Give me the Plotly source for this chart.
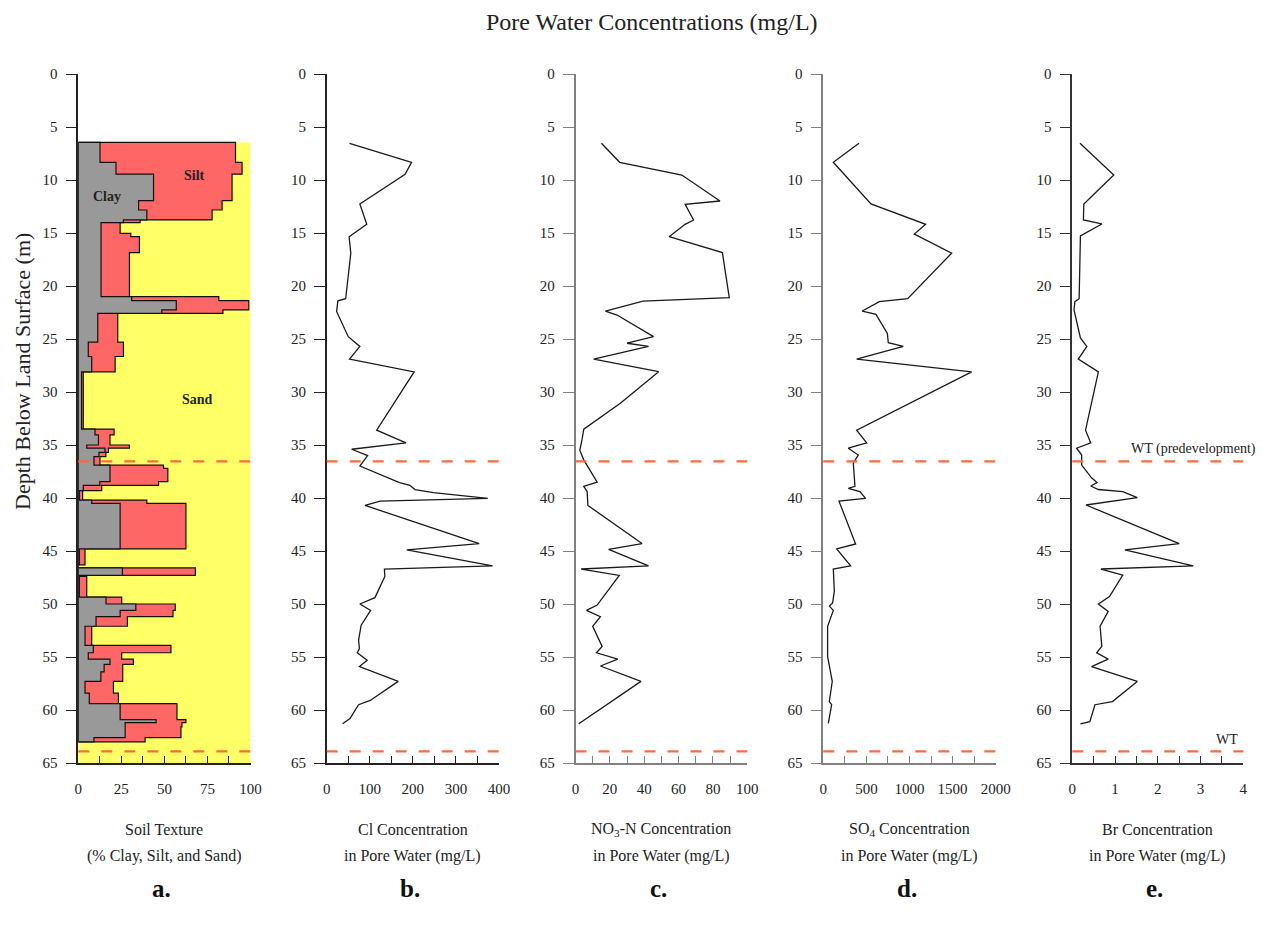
import plotly.graph_objects as go

W, H = 1265, 933
FONT = "Liberation Serif, Times New Roman, serif"

# ---------------- Soil texture (panel a) ----------------
TEXTURE_TOP = [6.45, 8.33, 9.45, 11.95, 12.83, 13.77, 14.03, 15.03, 15.35, 16.85,
               21.0, 21.38, 22.26, 22.58, 25.3, 26.65, 28.1, 33.5, 34.05, 35.0,
               35.3, 35.7, 36.1, 36.9, 37.2, 38.45, 38.8, 39.3, 40.2, 40.5,
               44.8, 46.3, 46.6, 47.3, 47.4, 49.35, 50.0, 50.6, 51.2, 52.1,
               53.9, 54.6, 55.2, 55.7, 56.4, 57.3, 58.4, 59.4, 60.9, 61.2,
               61.6, 62.6]
TEXTURE_BOTTOM = 63.0
CLAY_PCT = [12.6, 21.9, 43.7, 35.0, 39.8, 26.2, 13.2, 13.2, 13.2, 13.2,
            31.0, 56.9, 48.5, 11.3, 5.8, 7.8, 1.9, 9.7, 11.7, 4.9,
            15.5, 12.0, 9.1, 18.4, 18.4, 12.5, 2.9, 0.6, 7.8, 24.3,
            0.6, 0.0, 25.6, 0.0, 0.6, 16.1, 33.4, 24.3, 10.3, 3.9,
            8.7, 5.8, 18.4, 15.0, 13.1, 3.9, 6.4, 24.3, 45.2, 27.2,
            27.2, 9.1]
SILT_PCT = [78.7, 73.2, 45.6, 48.5, 37.9, 9.7, 11.1, 17.3, 22.3, 16.5,
            50.6, 42.1, 35.5, 11.6, 20.4, 13.6, 1.0, 11.1, 6.7, 24.8,
            2.0, 4.0, 3.5, 31.1, 33.6, 34.1, 10.7, 1.9, 32.0, 38.2,
            3.3, 0.0, 42.4, 0.0, 4.3, 9.1, 22.9, 30.7, 18.2, 3.9,
            45.1, 19.4, 13.6, 10.8, 12.7, 16.5, 16.9, 33.0, 17.3, 33.0,
            32.4, 29.7]

# ---------------- Pore water chemistry ----------------
CL_DEPTH = [6.54, 8.33, 9.47, 12.26, 14.18, 15.0, 15.35, 16.9, 21.2, 21.4, 22.4, 24.78,
            25.7, 26.9, 28.1, 33.6, 34.8, 35.4, 36.0, 36.98, 38.55, 38.8, 39.2, 39.5,
            40.03, 40.3, 40.7, 44.3, 44.9, 46.4, 46.7, 47.4, 49.4, 50.0, 50.6, 52.0,
            53.4, 54.2, 54.6, 55.3, 55.9, 57.3, 59.1, 59.5, 60.8, 61.3]
CL_MGL = [53, 197, 182, 77, 93, 66, 52, 56, 44, 26, 23, 50,
          77, 53, 203, 116, 184, 58, 95, 77, 169, 193, 205, 248,
          374, 124, 89, 354, 186, 385, 134, 135, 112, 77, 102, 80,
          74, 76, 71, 94, 76, 166, 101, 74, 54, 37]

NO3_DEPTH = [6.54, 8.33, 9.53, 11.98, 12.3, 13.77, 14.18, 15.35, 16.85, 21.1, 21.42,
             22.36, 22.74, 24.78, 25.4, 25.7, 26.9, 28.08, 31.07, 33.5, 34.4, 35.5,
             36.4, 38.5, 38.9, 39.4, 40.7, 44.3, 44.85, 46.4, 46.7, 47.3, 50.1, 50.6,
             51.2, 52.1, 54.0, 54.6, 55.2, 55.85, 57.3, 59.4, 61.3]
NO3_MGL = [15.1, 25.7, 61.9, 84.1, 63.8, 68.7, 63.8, 54.5, 85.5, 89.5, 39.3,
           17.4, 24.2, 45.4, 30.0, 42.5, 10.6, 48.4, 26.1, 4.8, 3.9, 2.5,
           4.8, 12.6, 4.8, 6.8, 7.2, 38.7, 19.3, 42.5, 3.3, 25.5, 12.6, 6.4,
           14.5, 10.0, 15.5, 12.2, 24.6, 14.5, 38.1, 19.3, 1.9]

SO4_DEPTH = [6.54, 8.33, 12.26, 14.18, 15.1, 16.9, 21.2, 21.48, 22.36, 22.67, 24.47,
             25.35, 25.7, 26.9, 28.1, 33.6, 34.8, 35.3, 35.95, 36.7, 38.9, 39.1, 39.4,
             40.03, 40.3, 44.34, 44.8, 46.4, 46.7, 48.8, 49.9, 50.2, 50.6, 52.1, 54.97,
             55.9, 57.3, 59.2, 59.5, 61.26]
SO4_MGL = [414, 116, 553, 1187, 1056, 1489, 979, 650, 452, 611, 743,
           754, 928, 387, 1721, 387, 503, 290, 406, 348, 367, 290, 425,
           491, 182, 375, 155, 317, 116, 128, 108, 70, 116, 50, 50,
           70, 104, 70, 97, 58]

BR_DEPTH = [6.54, 9.53, 12.26, 13.77, 14.15, 15.28, 21.2, 21.48, 22.26, 24.9, 25.7,
            26.9, 28.1, 33.6, 34.8, 35.3, 35.95, 36.9, 38.1, 38.55, 38.87, 39.2, 39.4,
            39.97, 40.66, 44.3, 44.9, 46.4, 46.7, 47.27, 49.3, 50.0, 50.7, 52.1, 54.0,
            54.6, 55.2, 55.9, 57.3, 59.2, 59.5, 61.1, 61.3]
BR_MGL = [0.18, 0.97, 0.27, 0.26, 0.69, 0.19, 0.16, 0.06, 0.04, 0.19, 0.34,
          0.14, 0.61, 0.31, 0.43, 0.10, 0.22, 0.22, 0.45, 0.58, 0.43, 0.61, 1.18,
          1.52, 0.32, 2.50, 1.23, 2.83, 0.67, 1.18, 0.87, 0.61, 0.84, 0.65, 0.69,
          0.57, 0.84, 0.45, 1.52, 0.94, 0.53, 0.41, 0.19]

WT_PREDEV = 36.55
WT_CURRENT = 63.9
DEPTH_MAX = 65

PANEL_TITLES = [("Soil Texture", "(% Clay, Silt, and Sand)"),
                ("Cl Concentration", "in Pore Water (mg/L)"),
                ("NO<sub>3</sub>-N Concentration", "in Pore Water (mg/L)"),
                ("SO<sub>4</sub> Concentration", "in Pore Water (mg/L)"),
                ("Br Concentration", "in Pore Water (mg/L)")]
PANEL_LETTERS = ["a.", "b.", "c.", "d.", "e."]
X_MAX = [100, 400, 100, 2000, 4]
X_DTICK = [25, 100, 20, 500, 1]
X_MINOR = [12.5, 50, 10, 250, 0.5]

# ---------------- layout geometry (pixels) ----------------
PANEL_PX = [(78.3, 250.5), (326.7, 499.0), (575.5, 747.3), (823.3, 995.7), (1072.3, 1243.3)]
AXIS_COLORS = ["#222222", "#222222", "#808080", "#808080", "#333333"]
Y_TOP_PX, Y_BOT_PX = 74, 763
ydom = [1 - Y_BOT_PX / H, 1 - Y_TOP_PX / H]

fig = go.Figure()

# sand background
clay_silt = [c + s for c, s in zip(CLAY_PCT, SILT_PCT)]
bottoms = TEXTURE_TOP[1:] + [TEXTURE_BOTTOM]

fig.add_trace(go.Scatter(
    x=[0, 100, 100, 0, 0],
    y=[TEXTURE_TOP[0], TEXTURE_TOP[0], DEPTH_MAX, DEPTH_MAX, TEXTURE_TOP[0]],
    fill="toself", fillcolor="#FFFF66", line=dict(width=0), mode="lines",
    hoverinfo="skip", showlegend=False, xaxis="x", yaxis="y"))


def step_polygon(vals):
    xs, ys = [0], [TEXTURE_TOP[0]]
    for v, t, b in zip(vals, TEXTURE_TOP, bottoms):
        xs += [v, v]
        ys += [t, b]
    xs += [0, 0]
    ys += [TEXTURE_BOTTOM, TEXTURE_TOP[0]]
    return xs, ys


for vals, col in [(clay_silt, "#FF6666"), (CLAY_PCT, "#999999")]:
    xs, ys = step_polygon(vals)
    fig.add_trace(go.Scatter(
        x=xs, y=ys, fill="toself", fillcolor=col, mode="lines",
        line=dict(color="#111111", width=1.2), hoverinfo="skip",
        showlegend=False, xaxis="x", yaxis="y"))

profiles = [(CL_MGL, CL_DEPTH), (NO3_MGL, NO3_DEPTH), (SO4_MGL, SO4_DEPTH), (BR_MGL, BR_DEPTH)]
for i, (vals, dep) in enumerate(profiles, start=2):
    fig.add_trace(go.Scatter(
        x=vals, y=dep, mode="lines", line=dict(color="#1a1a1a", width=1.3),
        showlegend=False, xaxis=f"x{i}", yaxis=f"y{i}"))

layout = dict(
    template="none",
    width=W, height=H, margin=dict(l=0, r=0, t=0, b=0, pad=0, autoexpand=False),
    paper_bgcolor="white", plot_bgcolor="rgba(0,0,0,0)",
    font=dict(family=FONT, size=14, color="#222222"),
    showlegend=False,
)

TICK_FONT = dict(family=FONT, size=15, color="#222222")
shapes = []
annotations = []
for k in range(5):
    n = "" if k == 0 else str(k + 1)
    x0p, x1p = PANEL_PX[k]
    xdom = [x0p / W, x1p / W]
    col = AXIS_COLORS[k]
    layout[f"xaxis{n}"] = dict(
        domain=xdom, anchor=f"y{n}", range=[0, X_MAX[k]], automargin=False,
        showline=True, linecolor=col, linewidth=1.5, mirror=False,
        ticks="inside", ticklen=7, tickwidth=1.3, tickcolor=col,
        tick0=0, dtick=X_DTICK[k],
        minor=dict(dtick=X_MINOR[k], ticks="inside", ticklen=7, tickwidth=1.3, tickcolor=col),
        showgrid=False, zeroline=False, tickfont=TICK_FONT,
        ticklabelstandoff=11, fixedrange=True)
    layout[f"yaxis{n}"] = dict(
        domain=ydom, anchor=f"x{n}", range=[DEPTH_MAX, 0], automargin=False,
        showline=True, linecolor=col, linewidth=1.5,
        ticks="outside", ticklen=11, tickwidth=1.3, tickcolor=col,
        tick0=0, dtick=5, showgrid=False, zeroline=False, tickfont=TICK_FONT,
        ticklabelstandoff=5, fixedrange=True)
    for wt in (WT_PREDEV, WT_CURRENT):
        shapes.append(dict(
            type="line", xref=f"x{n} domain", yref=f"y{n}", x0=0, x1=1, y0=wt, y1=wt,
            line=dict(color="#FF6A3D", width=2.2, dash="11px,12px"), layer="above"))
    cx = (x0p + x1p) / 2 / W
    annotations.append(dict(xref="paper", yref="paper", x=cx, y=1 - 829 / H,
                            xanchor="center", yanchor="middle",
                            text=PANEL_TITLES[k][0], showarrow=False,
                            font=dict(family=FONT, size=16, color="#222222")))
    annotations.append(dict(xref="paper", yref="paper", x=cx, y=1 - 856 / H,
                            xanchor="center", yanchor="middle",
                            text=PANEL_TITLES[k][1], showarrow=False,
                            font=dict(family=FONT, size=16, color="#222222")))
    annotations.append(dict(xref="paper", yref="paper", x=cx - 3 / W, y=1 - 888 / H,
                            xanchor="center", yanchor="middle",
                            text=f"<b>{PANEL_LETTERS[k]}</b>", showarrow=False,
                            font=dict(family=FONT, size=25, color="#111111")))

annotations += [
    dict(xref="paper", yref="paper", x=652 / W, y=1 - 22 / H,
         xanchor="center", yanchor="middle",
         text="Pore Water Concentrations (mg/L)", showarrow=False,
         font=dict(family=FONT, size=24, color="#222222")),
    dict(xref="paper", yref="paper", x=22 / W, y=1 - 372 / H, textangle=-90,
         xanchor="center", yanchor="middle",
         text="Depth Below Land Surface (m)", showarrow=False,
         font=dict(family=FONT, size=22, color="#222222")),
    dict(xref="x", yref="y", x=16.7, y=11.57, text="<b>Clay</b>", showarrow=False,
         xanchor="center", yanchor="middle",
         font=dict(family=FONT, size=14, color="#222222")),
    dict(xref="x", yref="y", x=67.6, y=9.53, text="<b>Silt</b>", showarrow=False,
         xanchor="center", yanchor="middle",
         font=dict(family=FONT, size=14, color="#222222")),
    dict(xref="x", yref="y", x=69, y=30.75, text="<b>Sand</b>", showarrow=False,
         xanchor="center", yanchor="middle",
         font=dict(family=FONT, size=14, color="#222222")),
    dict(xref="paper", yref="y5", x=1258 / W, y=WT_PREDEV, yanchor="bottom", xanchor="right",
         text="WT (predevelopment)", showarrow=False, yshift=2,
         font=dict(family=FONT, size=14, color="#222222")),
    dict(xref="paper", yref="y5", x=1240 / W, y=WT_CURRENT, yanchor="bottom", xanchor="right",
         text="WT", showarrow=False, yshift=2,
         font=dict(family=FONT, size=14, color="#222222")),
]

layout["shapes"] = shapes
layout["annotations"] = annotations
fig.update_layout(**layout)
fig.write_html("out.html")
